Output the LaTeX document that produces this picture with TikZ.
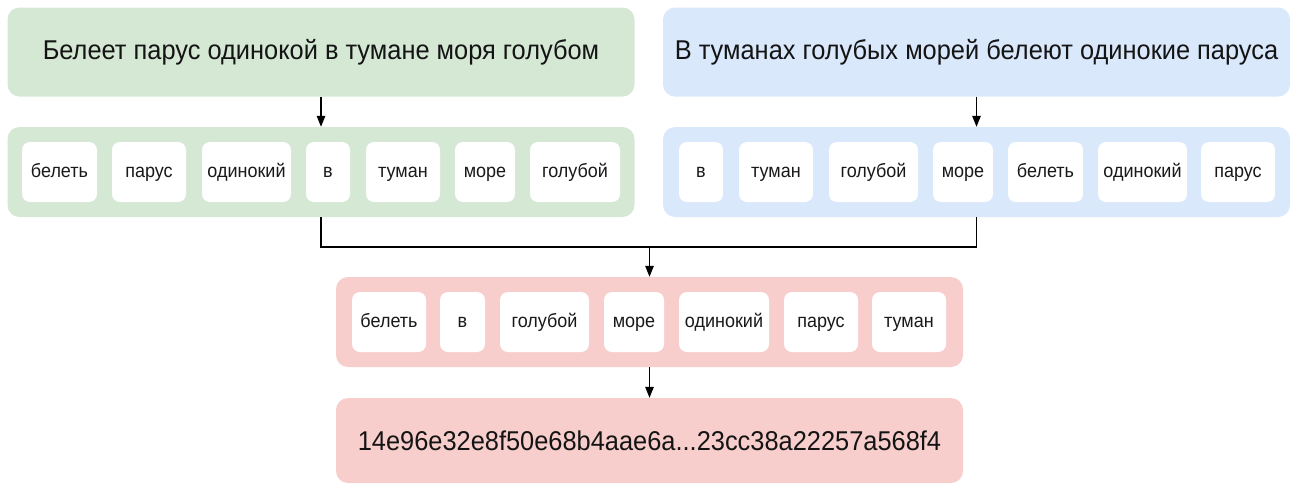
\documentclass[tikz,border=0pt]{standalone}
\usepackage{fontspec}
\setmainfont{Liberation Sans}
\usetikzlibrary{arrows.meta}
\definecolor{gfill}{HTML}{D5E8D4}
\definecolor{bfill}{HTML}{DAE8FC}
\definecolor{pfill}{HTML}{F8CECC}
\newcommand{\vtxt}[1]{\scalebox{1}[1.07]{#1}}
\tikzset{
  bigbox/.style={rounded corners=12pt, inner sep=0pt, minimum height=89pt, font=\fontsize{25.4}{30}\selectfont, text height=14.1pt, text depth=0pt, text=black!92},
  rowbox/.style={rounded corners=12pt, inner sep=0pt, minimum width=627pt, minimum height=90pt},
  word/.style={fill=white, rounded corners=8pt, inner sep=0pt, minimum height=60pt, font=\fontsize{18}{21}\selectfont, text height=10pt, text depth=0pt, text=black!90},
  arr/.style={line width=1.3pt, -{Triangle[length=11pt,width=8.5pt]}},
  conn/.style={line width=1.3pt},
}
\begin{document}
\begin{tikzpicture}[x=1pt,y=-1pt]
\useasboundingbox (0,0) rectangle (1292,483);
% top sentences
\node[bigbox, fill=gfill, minimum width=627pt] (gt) at (321,52) {\vtxt{Белеет парус одинокой в тумане моря голубом}};
\node[bigbox, fill=bfill, minimum width=627pt] (bt) at (976.5,52) {\vtxt{В туманах голубых морей белеют одинокие паруса}};
% rows
\node[rowbox, fill=gfill] (gr) at (321,172) {};
\node[rowbox, fill=bfill] (br) at (976.5,172) {};
\node[rowbox, fill=pfill] (pr) at (649.5,322) {};
% hash
\node[bigbox, fill=pfill, minimum width=627pt, minimum height=85pt, text height=19.5pt] (h) at (649.5,440.5) {\vtxt{14e96e32e8f50e68b4aae6a...23cc38a22257a568f4}};
% green words
\node[word, minimum width=75pt] (g1) at (59.5,172) {\vtxt{белеть}};
\node[word, minimum width=74pt] (g2) at (149,172) {\vtxt{парус}};
\node[word, minimum width=89pt] (g3) at (246.5,172) {\vtxt{одинокий}};
\node[word, minimum width=44pt] (g4) at (328,172) {\vtxt{в}};
\node[word, minimum width=74pt] (g5) at (403,172) {\vtxt{туман}};
\node[word, minimum width=60pt] (g6) at (485,172) {\vtxt{море}};
\node[word, minimum width=90pt] (g7) at (575,172) {\vtxt{голубой}};
% blue words
\node[word, minimum width=44pt] (b1) at (701,172) {\vtxt{в}};
\node[word, minimum width=74pt] (b2) at (776,172) {\vtxt{туман}};
\node[word, minimum width=89pt] (b3) at (873.5,172) {\vtxt{голубой}};
\node[word, minimum width=60pt] (b4) at (963,172) {\vtxt{море}};
\node[word, minimum width=75pt] (b5) at (1045.5,172) {\vtxt{белеть}};
\node[word, minimum width=89pt] (b6) at (1142.5,172) {\vtxt{одинокий}};
\node[word, minimum width=74pt] (b7) at (1238,172) {\vtxt{парус}};
% pink words
\node[word, minimum width=74pt] (p1) at (389,322) {\vtxt{белеть}};
\node[word, minimum width=45pt] (p2) at (462.5,322) {\vtxt{в}};
\node[word, minimum width=89pt] (p3) at (544.5,322) {\vtxt{голубой}};
\node[word, minimum width=60pt] (p4) at (634,322) {\vtxt{море}};
\node[word, minimum width=90pt] (p5) at (724,322) {\vtxt{одинокий}};
\node[word, minimum width=74pt] (p6) at (821,322) {\vtxt{парус}};
\node[word, minimum width=74pt] (p7) at (909,322) {\vtxt{туман}};
% connectors
\draw[arr] (gt.south) -- (gr.north);
\draw[arr] (bt.south) -- (br.north);
\coordinate (j) at (649.5,247);
\draw[conn] (gr.south) |- (j) -| (br.south);
\draw[arr] (j) -- (pr.north);
\draw[arr] (pr.south) -- (h.north);
\end{tikzpicture}
\end{document}
